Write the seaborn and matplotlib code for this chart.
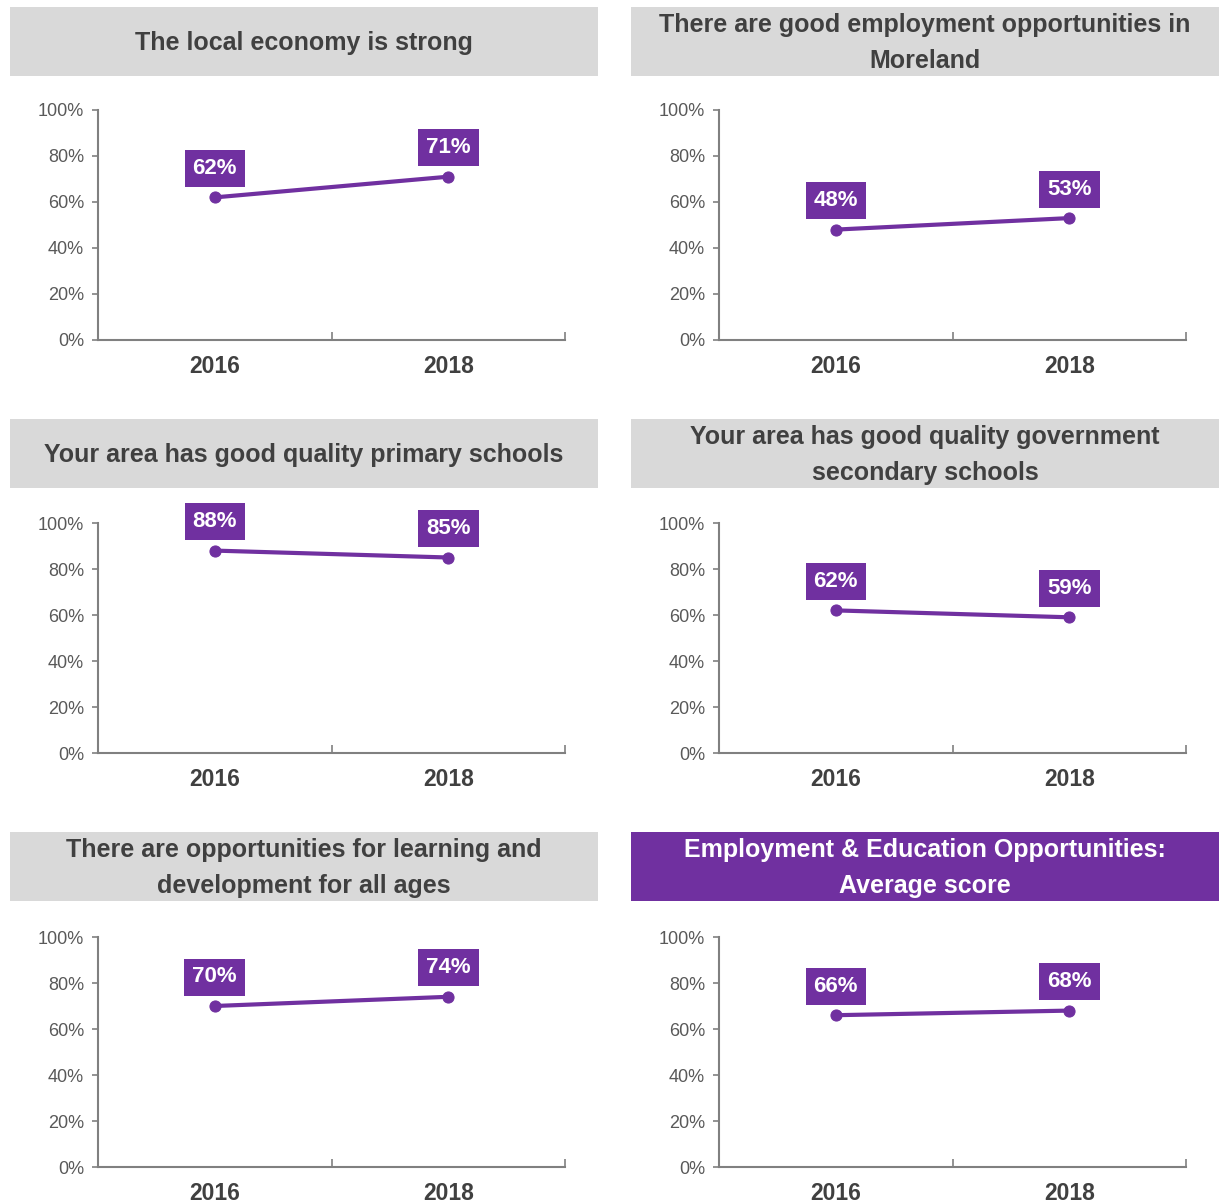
import numpy as np
import pandas as pd
import matplotlib
matplotlib.use("Agg")
import matplotlib.pyplot as plt
from matplotlib.patches import Rectangle
from matplotlib.ticker import FixedLocator
import seaborn as sns

# data
years = ["2016", "2018"]
titles = [
    "The local economy is strong",
    "There are good employment opportunities in\nMoreland",
    "Your area has good quality primary schools",
    "Your area has good quality government\nsecondary schools",
    "There are opportunities for learning and\ndevelopment for all ages",
    "Employment & Education Opportunities:\nAverage score",
]
economy = [62, 71]
employment = [48, 53]
primary = [88, 85]
secondary = [62, 59]
learning = [70, 74]
average = [66, 68]
scores = [economy, employment, primary, secondary, learning, average]

PURPLE = "#7030A0"
GREY_BOX = "#D9D9D9"
TEXT = "#404040"
AXIS = "#808080"

sns.set_theme(style="white")
plt.rcParams["font.family"] = ["Liberation Sans", "DejaVu Sans"]

W, H = 1227, 1204
fig = plt.figure(figsize=(W / 100, H / 100), dpi=100)

box_x = [10, 631]
ax_x = [98, 719]
box_y = [7, 419, 832]
ax_y = [110, 523, 937]


def fig_rect(x, y, w, h):
    return [x / W, 1 - (y + h) / H, w / W, h / H]


for i, (title, vals) in enumerate(zip(titles, scores)):
    r, c = divmod(i, 2)
    highlight = i == len(titles) - 1

    # title banner
    bx, by, bw, bh = box_x[c], box_y[r], 588, 69
    fig.add_artist(Rectangle((bx / W, 1 - (by + bh) / H), bw / W, bh / H,
                             transform=fig.transFigure,
                             facecolor=PURPLE if highlight else GREY_BOX,
                             edgecolor="none"))
    fig.text((bx + bw / 2) / W, 1 - (by + bh / 2 + 1.5) / H, title,
             ha="center", va="center", fontsize=18, fontweight="bold",
             color="white" if highlight else TEXT, linespacing=1.6)

    ax = fig.add_axes(fig_rect(ax_x[c], ax_y[r], 467, 230))
    df = pd.DataFrame({"year": years, "score": vals})
    sns.lineplot(data=df, x="year", y="score", ax=ax, color=PURPLE,
                 linewidth=3, marker="o", markersize=8,
                 markeredgecolor=PURPLE, clip_on=False)

    for x, v in enumerate(vals):
        ax.annotate(f"{v}%", (x, v), xytext=(0, 29), textcoords="offset pixels",
                    ha="center", va="center", fontsize=16, fontweight="bold",
                    color="white",
                    bbox=dict(boxstyle="square,pad=0.36", fc=PURPLE, ec="none"))

    ax.set_xlim(-0.5, len(years) - 0.5)
    ax.set_ylim(0, 100)
    ax.set_yticks(np.arange(0, 101, 20))
    ax.set_yticklabels([f"{t}%" for t in range(0, 101, 20)])
    ax.xaxis.set_minor_locator(FixedLocator(np.arange(-0.5, len(years), 1.0)))
    ax.tick_params(axis="x", which="major", length=0, pad=11,
                   labelsize=16.5, labelcolor=TEXT)
    ax.tick_params(axis="x", which="minor", length=6, width=1.2,
                   direction="in", color=AXIS, bottom=True)
    for lab in ax.get_xticklabels():
        lab.set_fontweight("bold")
    ax.tick_params(axis="y", length=4, width=1.2, direction="out",
                   color=AXIS, left=True, labelsize=13, labelcolor="#595959",
                   pad=6)
    ax.set_xlabel("")
    ax.set_ylabel("")
    for side in ["top", "right"]:
        ax.spines[side].set_visible(False)
    for side in ["left", "bottom"]:
        ax.spines[side].set_color(AXIS)
        ax.spines[side].set_linewidth(1.5)

fig.savefig("out.png", dpi=100, facecolor="white")
